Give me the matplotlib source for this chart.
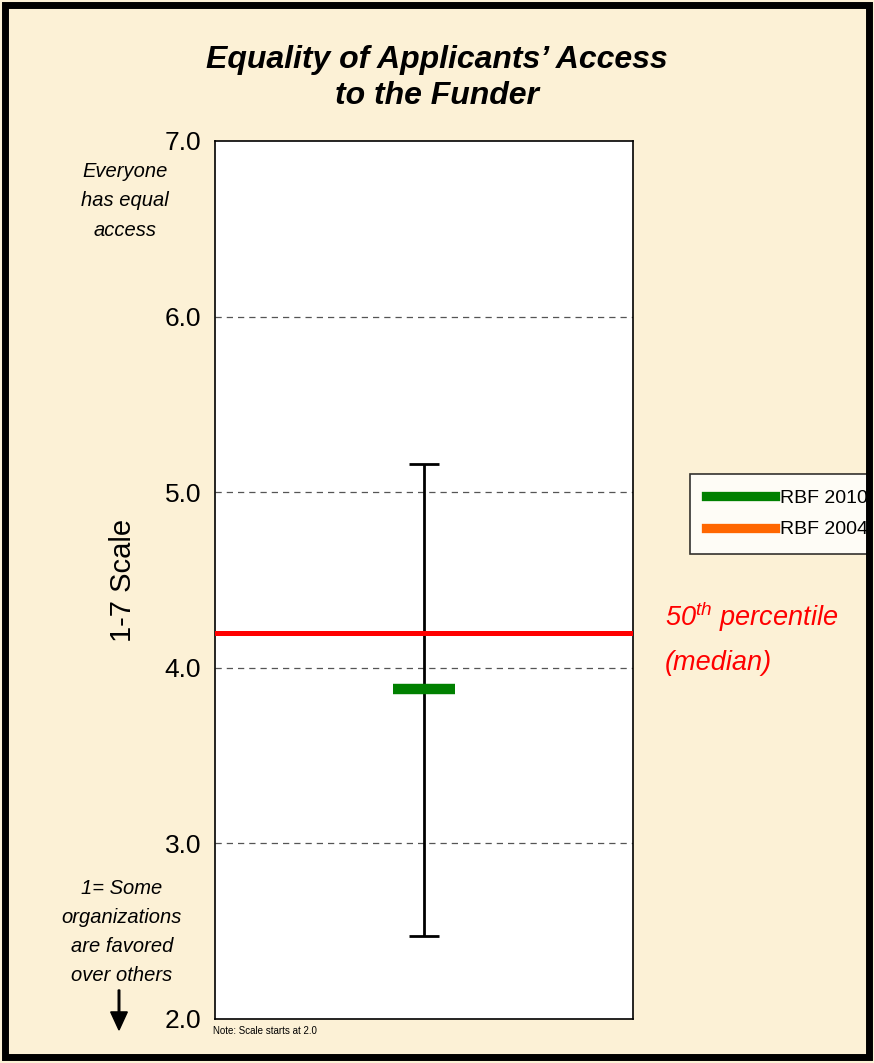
import matplotlib.pyplot as plt
from matplotlib.patches import Rectangle, FancyArrow

plt.rcParams['font.family'] = ['Liberation Sans', 'DejaVu Sans']
plt.rcParams['mathtext.fontset'] = 'custom'
plt.rcParams['mathtext.rm'] = 'Liberation Sans:italic'
plt.rcParams['mathtext.it'] = 'Liberation Sans:italic'

# data
series = ['RBF 2010', 'RBF 2004']
series_colors = ['#008000', '#FF6600']
rbf_2010 = 3.88
range_low, range_high = 2.47, 5.16
median = 4.20
yticks = [2.0, 3.0, 4.0, 5.0, 6.0, 7.0]

bg = '#FCF1D6'
W, H = 874, 1063
fig = plt.figure(figsize=(W / 100, H / 100), dpi=100, facecolor=bg)

ax = fig.add_axes([215 / W, 1 - 1019 / H, 418 / W, 878 / H])
ax.set_facecolor('white')
ax.set_xlim(0, 1)
ax.set_ylim(2, 7)
ax.set_yticks(yticks)
ax.set_yticklabels(['%.1f' % v for v in yticks], fontsize=19)
ax.set_xticks([])
ax.tick_params(axis='y', length=0, pad=10)
for s in ax.spines.values():
    s.set_linewidth(1.2)
    s.set_color('black')

for v in yticks[1:-1]:
    ax.axhline(v, color='#555555', lw=0.9, ls=(0, (5, 4)), zorder=1)

# range bar
ax.errorbar([0.5], [(range_low + range_high) / 2],
            yerr=[[(range_high - range_low) / 2], [(range_high - range_low) / 2]],
            fmt='none', ecolor='black', elinewidth=2, capsize=11, capthick=2, zorder=3)

# median line
ax.axhline(median, color='#FF0000', lw=3.6, zorder=4)

# RBF 2010 marker
ax.plot([0.5], [rbf_2010], marker='_', color=series_colors[0], markersize=44,
        markeredgewidth=7.5, ls='none', zorder=5)

ax.set_ylabel('1-7 Scale', fontsize=21, labelpad=20)

# title
fig.text(0.5, 1 - 78 / H, 'Equality of Applicants\u2019 Access\nto the Funder',
         ha='center', va='center', fontsize=23, fontweight='bold', style='italic',
         linespacing=1.3)

# scale annotations
fig.text(125 / W, 1 - 201 / H, 'Everyone\nhas equal\naccess', ha='center', va='center',
         fontsize=14.5, style='italic', linespacing=1.72)
fig.text(122 / W, 1 - 932 / H, '1= Some\norganizations\nare favored\nover others',
         ha='center', va='center', fontsize=14.5, style='italic', linespacing=1.68)
fig.patches.append(FancyArrow(
    119 / W, 1 - 990 / H, 0, -(40 / H), width=0.0018, head_width=0.019,
    head_length=0.017, length_includes_head=True, color='black',
    transform=fig.transFigure, figure=fig))

fig.text(665 / W, 1 - 617 / H, '50$^{\\mathrm{th}}$ percentile', ha='left', va='center',
         fontsize=19.5, style='italic', color='#FF0000')
fig.text(665 / W, 1 - 663 / H, '(median)', ha='left', va='center',
         fontsize=19.5, style='italic', color='#FF0000')

fig.text(213 / W, 1 - 1031 / H, 'Note: Scale starts at 2.0', ha='left', va='center',
         fontsize=7)

# legend
handles = [plt.Line2D([], [], color=c, lw=6.7) for c in series_colors]
leg = fig.legend(handles, series, loc='upper left',
                 bbox_to_anchor=(690 / W, 1 - 474 / H), fontsize=14,
                 handlelength=3.55, frameon=True, fancybox=False,
                 borderpad=0.8, labelspacing=0.7, handletextpad=0.3,
                 borderaxespad=0)
leg.get_frame().set_edgecolor('black')
leg.get_frame().set_linewidth(1.2)
leg.get_frame().set_facecolor('white')

# outer frame
frame = Rectangle((5 / W, 6 / H), 864 / W, 1052 / H, transform=fig.transFigure,
                  fill=False, edgecolor='black', lw=5, figure=fig, zorder=20)
fig.patches.append(frame)
fig.patches.append(Rectangle((869 / W, 0), 5 / W, 1, transform=fig.transFigure,
                             facecolor=bg, edgecolor='none', figure=fig, zorder=19))

fig.savefig('out.png', dpi=100, facecolor=bg)
